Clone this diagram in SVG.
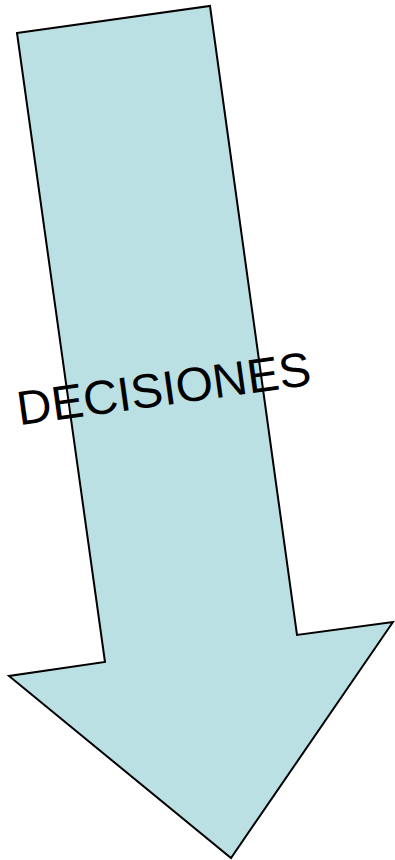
<svg xmlns="http://www.w3.org/2000/svg" width="395" height="860" viewBox="0 0 395 860">
<style>
.arrow{fill:#bbe0e3;stroke:#000;stroke-width:2;stroke-linejoin:miter}
.lbl{font-family:"Liberation Sans",Arial,sans-serif;font-size:48px;fill:#000}
</style>
<rect width="395" height="860" fill="#fff"/>
<g id="arrow">
<polygon class="arrow" points="17,33 210,6 297,635 393,622 231,858 9,676 105,662"/>
<text class="lbl" x="166" y="405" text-anchor="middle" transform="rotate(-7.9 166 405)">DECISIONES</text>
</g>
</svg>
